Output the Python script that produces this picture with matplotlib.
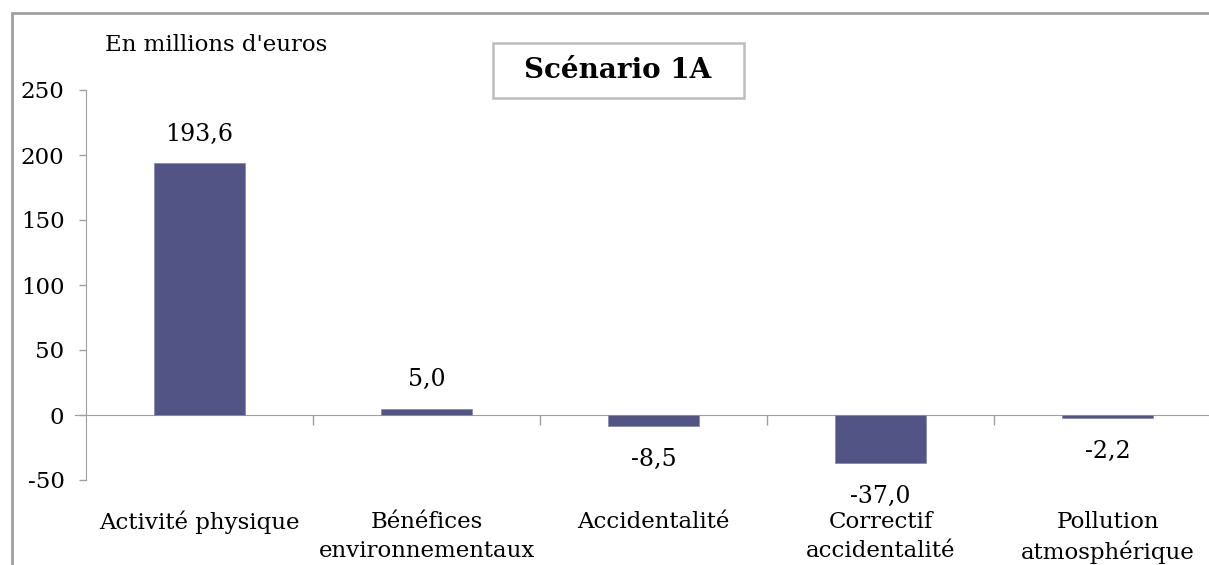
import numpy as np
import matplotlib
matplotlib.use("Agg")
import matplotlib.pyplot as plt
from matplotlib.patches import Rectangle

categories = ["Activité physique", "Bénéfices\nenvironnementaux", "Accidentalité",
              "Correctif\naccidentalité", "Pollution\natmosphérique"]
values = [193.6, 5.0, -8.5, -37.0, -2.2]
yticks = [-50, 0, 50, 100, 150, 200, 250]

plt.rcParams['font.family'] = ['DejaVu Serif']

W, H = 1209, 565
fig = plt.figure(figsize=(W / 100, H / 100), dpi=100)

# outer frame
fig.patches.append(Rectangle((12 / W, -0.1), 1.2, 1 - 13 / H + 0.1, transform=fig.transFigure,
                             fill=False, edgecolor='#a0a0a0', linewidth=2))

ax = fig.add_axes([86 / W, 1 - 480 / H, 1135 / W, 390 / H])
x = np.arange(len(categories))
ax.bar(x, values, width=0.4, color='#535486', edgecolor='#8a8bb0', linewidth=0.6, zorder=3)

ax.set_xlim(-0.5, len(categories) - 0.5)
ax.set_ylim(-50, 250)
ax.set_yticks(yticks)
ax.set_yticklabels([str(v) for v in yticks])
ax.tick_params(axis='y', length=5, width=1, color='#a0a0a0', pad=10.5, labelsize=16.5)

for s in ['top', 'right']:
    ax.spines[s].set_visible(False)
ax.spines['left'].set_color('#a0a0a0')
ax.spines['bottom'].set_color('#a0a0a0')
ax.spines['bottom'].set_position(('data', 0))
ax.spines['bottom'].set_bounds(-0.55, len(categories) - 0.5)

ax.set_xticks(x[:-1] + 0.5)
ax.set_xticklabels([])
ax.tick_params(axis='x', which='major', length=7, width=1, color='#a0a0a0')
ax.set_xticks(x, minor=True)
ax.set_xticklabels(categories, minor=True, fontsize=16.5, linespacing=1.4)
ax.tick_params(axis='x', which='minor', length=0, pad=69)

for xi, v in zip(x, values):
    lbl = f"{v:.1f}".replace('.', ',')
    dy = 21 if v >= 0 else -24
    ax.annotate(lbl, (xi, v), xytext=(0, dy), textcoords='offset points',
                ha='center', va='center', fontsize=17)

fig.text(105 / W, 1 - 45 / H, "En millions d'euros", fontsize=16.5, ha='left', va='center')
fig.patches.append(Rectangle((493 / W, 1 - 98 / H), 251 / W, 55 / H, transform=fig.transFigure,
                             facecolor='white', edgecolor='#bdbdbd', linewidth=1.8))
fig.text(618 / W, 1 - 71 / H, "Scénario 1A", fontsize=20, fontweight='bold', ha='center', va='center')

fig.savefig('out.png', dpi=100)
